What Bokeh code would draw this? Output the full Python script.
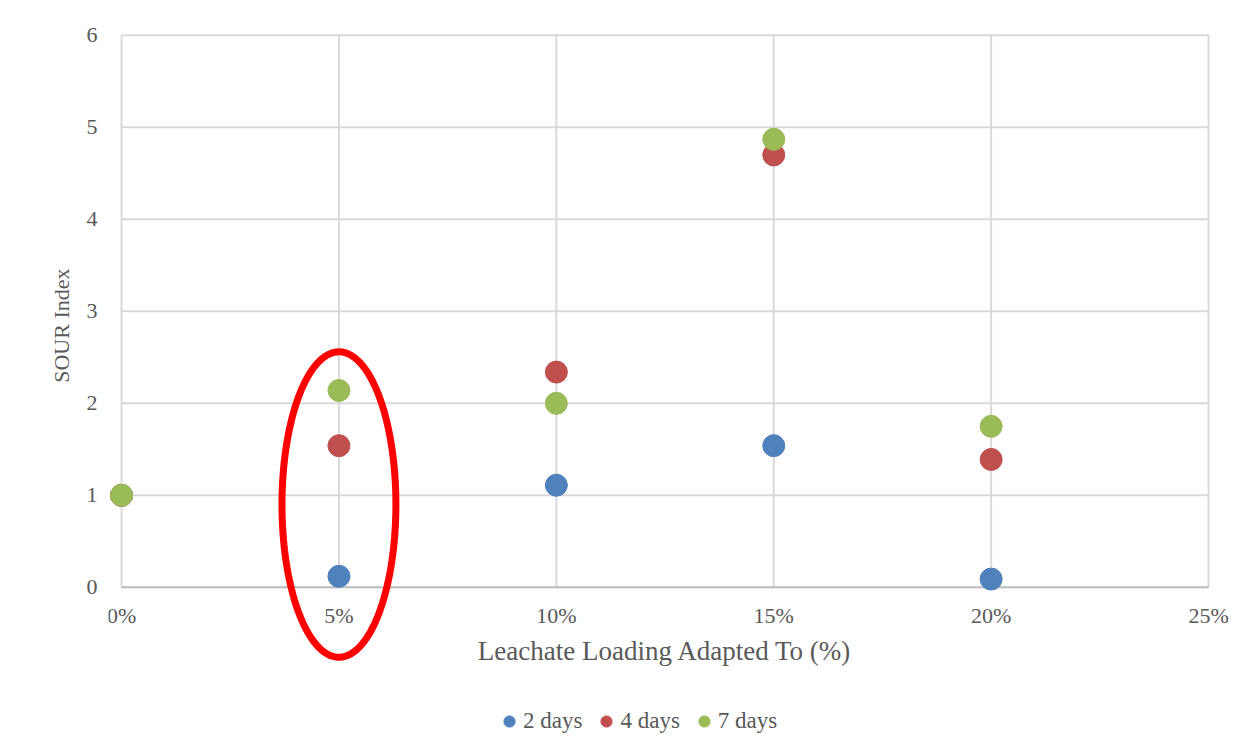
import numpy as np
from bokeh.plotting import figure
from bokeh.models import (Range1d, FixedTicker, PrintfTickFormatter, Legend, LegendItem,
                          PolyAnnotation, Title)
from bokeh.embed import file_html
from bokeh.resources import INLINE

# ---- data ----
loading = [0, 5, 10, 15, 20]
days2 = [1.0, 0.12, 1.11, 1.54, 0.09]
days4 = [1.0, 1.54, 2.34, 4.70, 1.39]
days7 = [1.0, 2.14, 2.00, 4.87, 1.75]
series_names = ["2 days", "4 days", "7 days"]
series_colors = ["#4F81BD", "#C0504D", "#9BBB59"]
x_ticks = [0, 5, 10, 15, 20, 25]
y_ticks = [0, 1, 2, 3, 4, 5, 6]

# highlight ellipse (data units)
ell_cx, ell_cy, ell_rx, ell_ry = 5, 0.90, 1.31, 1.66

TXT = "#595959"
FONT = "Liberation Serif"

# ---- layout ----
W, H = 1258, 756
LEFT, TOP, RIGHT = 108, 33, 8
FRAME_W = W - LEFT - RIGHT
FRAME_H = H - TOP
PX_PER_X = 1087 / 25.0
PX_PER_Y = 92.0
x_start = -0.3
x_end = x_start + FRAME_W / PX_PER_X
y_end = 6.02
y_start = y_end - FRAME_H / PX_PER_Y

p = figure(width=W, height=H, output_backend="svg", toolbar_location=None,
           x_range=Range1d(x_start, x_end), y_range=Range1d(y_start, y_end),
           min_border_left=LEFT, min_border_right=RIGHT, min_border_top=TOP, min_border_bottom=0)
p.outline_line_color = None
p.background_fill_color = "white"
p.border_fill_color = "white"
p.xgrid.visible = False
p.ygrid.visible = False

# gridlines
n_y = len(y_ticks)
p.segment(x0=[x_ticks[0]] * n_y, x1=[x_ticks[-1]] * n_y, y0=y_ticks, y1=y_ticks,
          line_color="#d9d9d9", line_width=2)
n_x = len(x_ticks)
p.segment(x0=x_ticks, x1=x_ticks, y0=[y_ticks[0]] * n_x, y1=[y_ticks[-1]] * n_x,
          line_color="#d9d9d9", line_width=2)
p.segment(x0=[x_ticks[0]], x1=[x_ticks[-1]], y0=[y_ticks[0]], y1=[y_ticks[0]],
          line_color="#bfbfbf", line_width=2)

renderers = []
for vals, col in zip([days2, days4, days7], series_colors):
    r = p.circle(loading, vals, radius=11, radius_units="screen", fill_color=col, line_color=col)
    renderers.append(r)

# axes
p.xaxis.ticker = FixedTicker(ticks=x_ticks)
p.xaxis.formatter = PrintfTickFormatter(format="%d%%")
p.xaxis.fixed_location = 0
p.xaxis.bounds = (x_ticks[0], x_ticks[-1])
p.yaxis.ticker = FixedTicker(ticks=y_ticks)
p.yaxis.bounds = (y_ticks[0], y_ticks[-1])
for ax in (p.xaxis[0], p.yaxis[0]):
    ax.axis_line_color = None
    ax.major_tick_line_color = None
    ax.minor_tick_line_color = None
    ax.major_label_text_font = FONT
    ax.major_label_text_font_size = "22px"
    ax.major_label_text_color = TXT
    ax.axis_label_text_font = FONT
    ax.axis_label_text_font_style = "normal"
    ax.axis_label_text_color = TXT
p.xaxis.axis_label = "Leachate Loading Adapted To (%)"
p.xaxis.axis_label_text_font_size = "27px"
p.xaxis.major_label_standoff = 10
p.xaxis.axis_label_standoff = 4
p.yaxis.major_label_standoff = 5

# y axis title placed on the left side
ytitle = Title(text="SOUR Index", align="right", offset=235, vertical_align="bottom", standoff=20,
               text_font=FONT, text_font_size="22px", text_color=TXT, text_font_style="normal")
p.add_layout(ytitle, "left")

# highlight ellipse
t = np.linspace(0, 2 * np.pi, 200)
p.add_layout(PolyAnnotation(xs=list(ell_cx + ell_rx * np.cos(t)), ys=list(ell_cy + ell_ry * np.sin(t)),
                            fill_color=None, fill_alpha=0, line_color="#FF0000", line_alpha=1.0,
                            line_width=7))

legend = Legend(items=[LegendItem(label=n, renderers=[r]) for n, r in zip(series_names, renderers)],
                orientation="horizontal", location=(387, 21),
                glyph_width=28, glyph_height=28, label_standoff=0, spacing=10,
                label_text_font=FONT, label_text_font_size="23px", label_text_color=TXT,
                border_line_color=None, background_fill_alpha=0, padding=0, margin=0)
p.add_layout(legend)

open("out.html", "w").write(file_html(p, INLINE))
